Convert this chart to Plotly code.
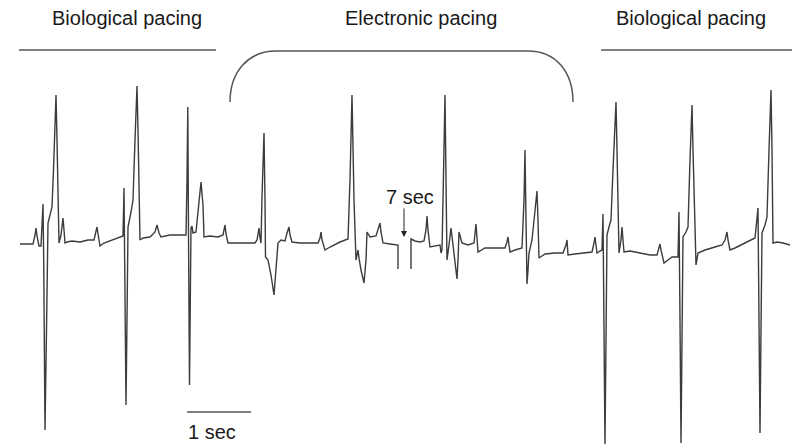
import plotly.graph_objects as go

# Trace values (time in px units: 64 units = 1 sec; voltage in px units, downward positive)
seg_a_t = [20, 33, 35, 36, 37, 39, 41, 42.5, 43, 43.7, 45, 46.5, 48, 50, 52, 53.5, 55, 56, 57, 58.5, 59, 61, 63, 64, 65,
           67, 72, 80, 88, 94, 96, 97, 98, 100, 104, 110, 118, 123,
           124, 125, 126, 127, 128, 131, 133, 135, 137, 138, 139.5, 140, 143, 150, 155, 157, 159, 161, 170, 180, 186,
           187, 187.8, 188.6, 189.5, 190.3, 191, 192, 193, 196, 199, 201, 203, 204, 210, 218, 223, 225, 226, 228, 235,
           245, 255, 257, 259, 260, 261,
           262, 263, 264, 265, 265.5, 268, 271, 274, 276, 278, 281, 285, 287, 289, 290, 292, 300, 310, 318, 320, 321,
           322, 325, 330, 340, 348,
           350, 352, 354, 356, 357, 358, 359, 361, 364, 366, 367, 370, 376, 378, 380, 381, 383, 390, 397, 398, 398]
seg_a_v = [244, 244, 235, 228, 236, 246, 246, 215, 204, 260, 430, 330, 223, 215, 207, 170, 120, 95, 140, 220, 243, 235, 218, 230, 243,
           242, 241, 242, 240, 240, 233, 227, 234, 246, 243, 241, 238, 236,
           188, 300, 405, 320, 227, 212, 200, 140, 86, 130, 220, 240, 238, 237, 232, 225, 233, 237, 235, 235, 235,
           180, 107, 250, 385, 300, 228, 226, 233, 232, 200, 182, 205, 237, 236, 237, 235, 225, 234, 243, 243,
           243, 243, 240, 228, 238, 243,
           197, 150, 133, 200, 257, 260, 275, 295, 270, 243, 240, 241, 233, 227, 235, 242, 243, 243, 243, 238, 232,
           240, 250, 247, 242, 239,
           180, 95, 200, 260, 255, 250, 258, 270, 283, 260, 232, 237, 236, 230, 223, 232, 243, 244, 245, 245, 269]

seg_b_t = [411, 411, 415, 420, 424, 426, 427, 428, 430, 435, 440, 441, 442, 443, 445, 446, 447, 449, 451, 453, 455, 457,
           458, 459, 462, 468, 474, 475, 476, 477, 478, 485, 495, 505, 507, 508, 509, 510, 515, 522,
           524, 525, 526, 527, 528, 529, 532, 535, 537, 538, 539, 545, 555, 563, 566, 567, 568, 575, 585, 592, 594,
           595, 596, 597, 600, 602,
           603, 604, 605, 606, 607, 609, 611, 613, 615, 616, 617, 618.5, 619, 621, 622, 623, 624, 630, 640, 650, 657,
           659, 660, 661, 664, 668, 672, 678,
           679, 680, 681, 682, 683, 686, 688, 690, 692, 693, 695, 696, 698, 705, 715, 722, 725, 727, 728, 730, 735,
           745, 755,
           758, 759, 760, 761, 762, 765, 767, 769, 771, 772, 773, 777, 783, 790]
seg_b_v = [269, 239, 241, 242, 241, 230, 216, 230, 247, 246, 245, 253, 250, 200, 95, 180, 260, 245, 228, 245, 265, 279,
           260, 232, 243, 245, 243, 232, 224, 238, 252, 248, 248, 248, 242, 237, 245, 252, 250, 248,
           200, 150, 220, 284, 270, 253, 240, 210, 191, 220, 258, 254, 253, 253, 245, 240, 255, 254, 253, 252, 243,
           237, 245, 253, 251, 250,
           214, 330, 444, 340, 235, 227, 220, 170, 120, 102, 150, 230, 253, 240, 227, 240, 252, 251, 253, 255, 255,
           248, 244, 250, 263, 260, 257, 257,
           212, 320, 443, 340, 237, 232, 227, 160, 105, 150, 240, 265, 253, 250, 247, 245, 240, 232, 240, 250, 248,
           243, 238,
           208, 320, 433, 330, 233, 225, 217, 150, 90, 150, 243, 242, 243, 245]

header_labels = ["Biological pacing", "Electronic pacing", "Biological pacing"]
header_x = [127, 421, 691]
scale_label = "1 sec"
gap_label = "7 sec"

trace_color = "#3c3c3c"
fig = go.Figure()
fig.add_trace(go.Scatter(x=seg_a_t, y=seg_a_v, mode="lines",
                         line=dict(color=trace_color, width=1.4), hoverinfo="skip"))
fig.add_trace(go.Scatter(x=seg_b_t, y=seg_b_v, mode="lines",
                         line=dict(color=trace_color, width=1.4), hoverinfo="skip"))

font = dict(family="Liberation Sans, Arial, sans-serif", size=20, color="#1a1a1a")
annotations = []
for lbl, hx in zip(header_labels, header_x):
    annotations.append(dict(x=hx, y=18, xref="x", yref="y", text=lbl, showarrow=False,
                            font=font, xanchor="center", yanchor="middle"))
annotations.append(dict(x=212, y=432, xref="x", yref="y", text=scale_label, showarrow=False,
                        font=font, xanchor="center", yanchor="middle"))
annotations.append(dict(x=410, y=197, xref="x", yref="y", text=gap_label, showarrow=False,
                        font=font, xanchor="center", yanchor="middle"))
annotations.append(dict(x=404, y=237, ax=404, ay=207, xref="x", yref="y", axref="x", ayref="y",
                        text="", showarrow=True, arrowhead=2, arrowsize=1.2, arrowwidth=1,
                        arrowcolor="#222"))

line_col = "#555555"
shapes = [
    dict(type="line", x0=19, y0=50, x1=216, y1=50, xref="x", yref="y", line=dict(color=line_col, width=1.5)),
    dict(type="line", x0=601, y0=50, x1=792, y1=50, xref="x", yref="y", line=dict(color=line_col, width=1.5)),
    dict(type="path", xref="x", yref="y",
         path="M 230,102 C 230,72 248,51 276,51 L 528,51 C 556,51 573,72 573,102",
         line=dict(color=line_col, width=1.5)),
    dict(type="line", x0=187, y0=412, x1=251, y1=412, xref="x", yref="y", line=dict(color=line_col, width=1.5)),
]

fig.update_layout(
    width=792, height=445, margin=dict(l=0, r=0, t=0, b=0),
    paper_bgcolor="white", plot_bgcolor="white", showlegend=False,
    xaxis=dict(range=[0, 792], visible=False, fixedrange=True),
    yaxis=dict(range=[445, 0], visible=False, fixedrange=True),
    annotations=annotations, shapes=shapes,
)
fig.write_html("out.html", config={"displayModeBar": False},
               post_script="document.body.style.margin='0';document.body.style.overflow='hidden';")
